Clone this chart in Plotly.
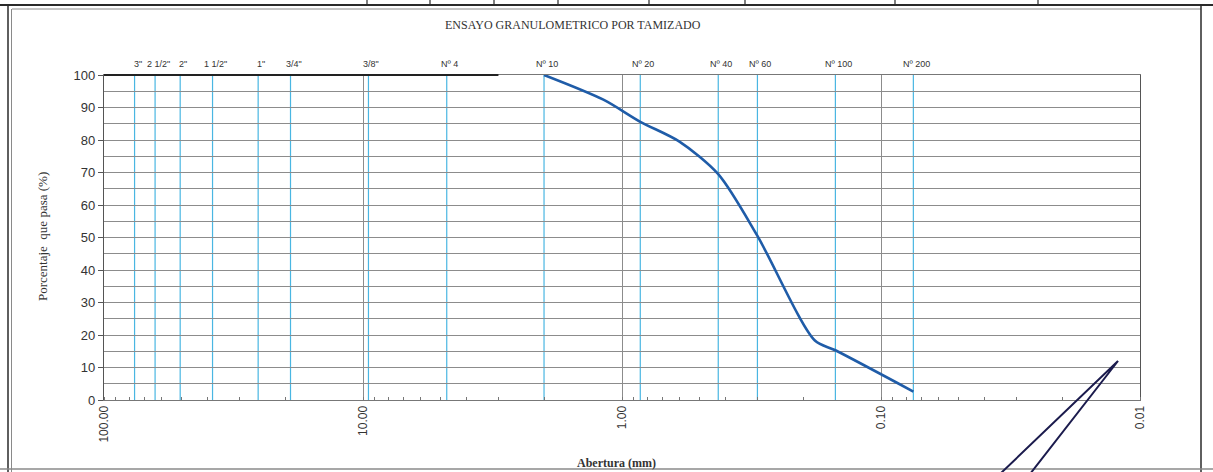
import numpy as np
import plotly.graph_objects as go

# ---- data ----
sieve_labels = ['3"', '2 1/2"', '2"', '1 1/2"', '1"', '3/4"', '3/8"', 'Nº 4',
                'Nº 10', 'Nº 20', 'Nº 40', 'Nº 60', 'Nº 100', 'Nº 200']
sieve_mm = [76.2, 63.5, 50.8, 38.1, 25.4, 19.05, 9.525, 4.75,
            2.0, 0.85, 0.425, 0.30, 0.15, 0.075]

curve_mm = [2.0, 1.18, 0.85, 0.60, 0.425, 0.30, 0.18, 0.15, 0.075]
curve_pct = [100.0, 92.4, 85.6, 79.5, 69.5, 50.5, 18.3, 15.3, 2.6]

x_tickvals = [100, 10, 1, 0.1, 0.01]
x_ticktext = ['100.00', '10.00', '1.00', '0.10', '0.01']
y_tickvals = [0, 10, 20, 30, 40, 50, 60, 70, 80, 90, 100]

W, H = 1213, 472
L, R, T, B = 104, 1140, 75, 400


def px(xp):
    return (xp - L) / (R - L)


def py(yp):
    return (B - yp) / (B - T)


fig = go.Figure()
fig.add_trace(go.Scatter(
    x=curve_mm, y=curve_pct, mode='lines',
    line=dict(color='#1f5ca8', width=2.6, shape='spline', smoothing=0.8),
    showlegend=False, hoverinfo='skip'))

shapes = []
annotations = []
# sieve lines and labels
for lab, d in zip(sieve_labels, sieve_mm):
    shapes.append(dict(type='line', xref='x', yref='paper', x0=d, x1=d, y0=0, y1=1,
                       line=dict(color='#49b6e2', width=1.2), layer='below'))
    annotations.append(dict(x=float(np.log10(d)), y=py(64), xref='x', yref='paper', text=lab,
                            showarrow=False, xshift=3, yanchor='middle', xanchor='center',
                            font=dict(family='Liberation Sans Narrow, Liberation Sans, Arial', size=9, color='#333')))

# thick top line on the coarse section
shapes.append(dict(type='line', xref='x', yref='paper', x0=100, x1=3.0,
                   y0=1, y1=1, line=dict(color='#222', width=2)))

# document frame
dark = '#2a2a2a'
grey = '#8a8a8a'
shapes += [
    dict(type='line', xref='paper', yref='paper', x0=px(0), x1=px(W), y0=py(5), y1=py(5),
         line=dict(color=dark, width=2)),
    dict(type='line', xref='paper', yref='paper', x0=px(12), x1=px(1201), y0=py(9), y1=py(9),
         line=dict(color=grey, width=1)),
    dict(type='line', xref='paper', yref='paper', x0=px(8), x1=px(8), y0=py(5), y1=py(W),
         line=dict(color=dark, width=1.5)),
    dict(type='line', xref='paper', yref='paper', x0=px(11.5), x1=px(11.5), y0=py(9), y1=py(W),
         line=dict(color=grey, width=1)),
    dict(type='line', xref='paper', yref='paper', x0=px(1201), x1=px(1201), y0=py(5), y1=py(W),
         line=dict(color=dark, width=1.5)),
    dict(type='line', xref='paper', yref='paper', x0=px(0), x1=px(W), y0=py(469), y1=py(469),
         line=dict(color=grey, width=1.5)),
]
for xs in [367, 430, 494, 558, 649, 745, 895, 1038]:
    shapes.append(dict(type='line', xref='paper', yref='paper', x0=px(xs), x1=px(xs),
                       y0=py(0), y1=py(5), line=dict(color=dark, width=1.2)))

# pen mark
shapes.append(dict(type='path', xref='paper', yref='paper',
                   path=f'M {px(1000)} {py(474)} L {px(1118)} {py(361)} L {px(1030)} {py(474)}',
                   line=dict(color='#1b1b4d', width=2)))

annotations += [
    dict(x=px(573), y=py(25), xref='paper', yref='paper', text='ENSAYO GRANULOMETRICO POR TAMIZADO',
         showarrow=False, xanchor='center', yanchor='middle',
         font=dict(family='Liberation Serif, Times New Roman', size=12, color='#333')),
    dict(x=px(42), y=py(237), xref='paper', yref='paper', text='Porcentaje  que pasa (%)',
         textangle=-90, showarrow=False, xanchor='center', yanchor='middle',
         font=dict(family='Liberation Serif, Times New Roman', size=13, color='#333')),
    dict(x=px(616), y=py(463), xref='paper', yref='paper', text='<b>Abertura (mm)</b>',
         showarrow=False, xanchor='center', yanchor='middle',
         font=dict(family='Liberation Serif, Times New Roman', size=12, color='#333')),
]

fig.update_layout(
    width=W, height=H,
    margin=dict(l=L, r=W - R, t=T, b=H - B, pad=0),
    paper_bgcolor='white', plot_bgcolor='white',
    shapes=shapes, annotations=annotations,
    xaxis=dict(type='log', range=[2, -2], tickvals=x_tickvals, ticktext=x_ticktext,
               tickangle=-90, showgrid=True, gridcolor='#8c8c8c', gridwidth=1.2,
               showline=True, linecolor='#777', linewidth=1.2, mirror=True,
               ticks='', zeroline=False,
               tickfont=dict(family='Liberation Sans, Arial', size=12, color='#333'),
               minor=dict(ticks='inside', ticklen=3, tickcolor='#777', dtick='D1', showgrid=False)),
    yaxis=dict(range=[0, 100], tickvals=y_tickvals, showgrid=True, gridcolor='#8c8c8c',
               gridwidth=1, showline=True, linecolor='#555', linewidth=1.2, mirror=True,
               ticks='outside', ticklen=5, tickcolor='#555', zeroline=False,
               tickfont=dict(family='Liberation Sans, Arial', size=13, color='#333'),
               minor=dict(dtick=5, showgrid=True, gridcolor='#8c8c8c', gridwidth=1)),
)

fig.write_html('out.html', config={'displayModeBar': False},
               post_script="document.body.style.margin='0px';")
